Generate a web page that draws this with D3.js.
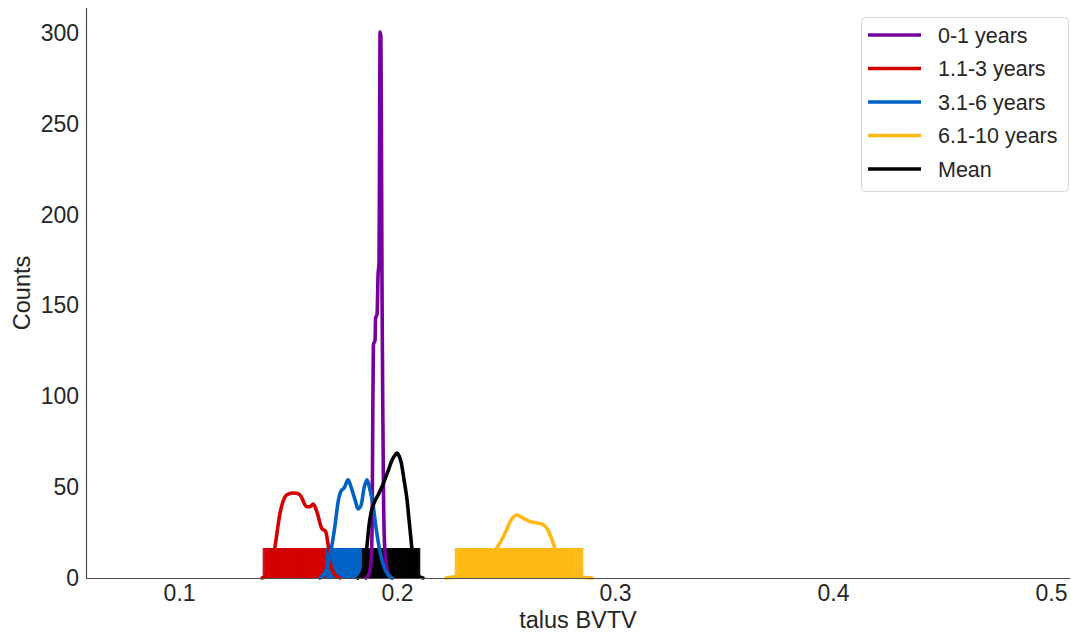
<!DOCTYPE html>
<html>
<head>
<meta charset="utf-8">
<script src="https://cdn.jsdelivr.net/npm/d3@7"></script>
<style>
  html, body { margin: 0; padding: 0; background: #fff; }
  svg { display: block; font-family: "Liberation Sans", Arial, sans-serif; }
</style>
</head>
<body>
<svg id="chart" width="1071" height="635"></svg>
<script>
// Age groups, in drawing order
const groups = ["0-1 years", "1.1-3 years", "3.1-6 years", "6.1-10 years", "Mean"];
const groupColors = ["#77009c", "#d40000", "#0062c4", "#ffb914", "#000000"];

// Axis ticks
const xTicks = [0.1, 0.2, 0.3, 0.4, 0.5];
const yTicks = [0, 50, 100, 150, 200, 250, 300];

// Density curves: [talus BVTV, counts]
const kde0to1 = [
  [0.18578, 0], [0.18716, 2.2], [0.18807, 8.8], [0.18853, 26.4], [0.18880, 76],
  [0.18913, 128.3], [0.18991, 131], [0.19014, 143.1], [0.19083, 145.3], [0.19128, 166.8],
  [0.19174, 173.9], [0.19201, 252.1], [0.19220, 300.5], [0.19257, 298.3], [0.19285, 235.6],
  [0.19312, 153.6], [0.19349, 87.6], [0.19381, 43.5], [0.19427, 18.2], [0.19518, 6.6],
  [0.19633, 1.7], [0.19770, 0]
];
const kde1to3 = [
  [0.13810, 0], [0.14034, 1.7], [0.14268, 8.0], [0.14400, 17.2], [0.14633, 35.8],
  [0.14867, 44.8], [0.15009, 46.2], [0.15233, 46.8], [0.15395, 46.6], [0.15548, 45.7],
  [0.15863, 39.2], [0.16005, 39.2], [0.16157, 40.7], [0.16320, 36.5], [0.16543, 27.4],
  [0.16726, 25.5], [0.16848, 17.2], [0.16970, 6.2], [0.17153, 1.7], [0.17387, 0]
];
const kde3to6 = [
  [0.16468, 0], [0.16744, 4.4], [0.16972, 15.4], [0.17156, 29.2], [0.17293, 41.8],
  [0.17432, 47.9], [0.17569, 49.5], [0.17753, 54], [0.17890, 50], [0.18074, 43],
  [0.18211, 38], [0.18349, 40], [0.18486, 49.5], [0.18624, 54], [0.18762, 48.4],
  [0.18899, 40.2], [0.19037, 27.5], [0.19220, 14.3], [0.19404, 6], [0.19588, 1.7],
  [0.19770, 0]
];
const kde6to10 = [
  [0.22248, 0], [0.22798, 1.1], [0.23349, 3.9], [0.23899, 8.3], [0.24358, 13.2],
  [0.24725, 19.3], [0.25000, 25.9], [0.25230, 31.9], [0.25505, 34.7], [0.25779, 33],
  [0.26102, 31.1], [0.26423, 30.3], [0.26697, 29.4], [0.26927, 26.4], [0.27156, 19.3],
  [0.27386, 10.5], [0.27614, 5], [0.27890, 1.7], [0.28395, 0.6], [0.28946, 0]
];
const kdeMean = [
  [0.18211, 0], [0.18395, 2.8], [0.18532, 8.8], [0.18624, 18.2], [0.18716, 29.2],
  [0.18807, 35.8], [0.18945, 41.3], [0.19128, 45.7], [0.19358, 51.7], [0.19588, 58.9],
  [0.19770, 65], [0.19909, 67.7], [0.20000, 68.8], [0.20092, 67.2], [0.20184, 63.9],
  [0.20321, 53.9], [0.20458, 42.9], [0.20551, 31.9], [0.20642, 20.9], [0.20734, 9.9],
  [0.20872, 3.3], [0.21055, 0.6], [0.21193, 0]
];

// Individual observations shown as a rug along the x axis
const rug0to1 = [0.1884, 0.1894, 0.1904, 0.1914, 0.1924, 0.1934, 0.1944];
const rug1to3 = [
  0.1394, 0.1404, 0.1414, 0.1424, 0.1434, 0.1444, 0.1454, 0.1464, 0.1474, 0.1484,
  0.1494, 0.1504, 0.1514, 0.1524, 0.1534, 0.1544, 0.1554, 0.1564, 0.1574, 0.1584,
  0.1594, 0.1604, 0.1614, 0.1624, 0.1634, 0.1644, 0.1654, 0.1664, 0.1674
];
const rug3to6 = [
  0.1683, 0.1693, 0.1703, 0.1713, 0.1723, 0.1733, 0.1743, 0.1753, 0.1763, 0.1773,
  0.1783, 0.1793, 0.1803, 0.1813, 0.1823, 0.1833, 0.1843, 0.1853, 0.1863, 0.1873
];
const rug6to10 = [
  0.2275, 0.2289, 0.2297, 0.2307, 0.2317, 0.2327, 0.2337, 0.2347, 0.2357, 0.2367,
  0.2377, 0.2387, 0.2397, 0.2407, 0.2417, 0.2427, 0.2437, 0.2447, 0.2457, 0.2467,
  0.2477, 0.2487, 0.2497, 0.2507, 0.2517, 0.2527, 0.2537, 0.2547, 0.2557, 0.2567,
  0.2577, 0.2587, 0.2597, 0.2607, 0.2617, 0.2627, 0.2637, 0.2647, 0.2657, 0.2667,
  0.2677, 0.2687, 0.2697, 0.2707, 0.2717, 0.2727, 0.2737, 0.2747, 0.2757, 0.2767,
  0.2777, 0.2787, 0.2797, 0.2805, 0.2819, 0.2832, 0.2844
];
const rugMean = [
  0.1849, 0.1859, 0.1869, 0.1879, 0.1889, 0.1899, 0.1909, 0.1919, 0.1929, 0.1939,
  0.1949, 0.1959, 0.1969, 0.1979, 0.1989, 0.1999, 0.2009, 0.2019, 0.2029, 0.2039,
  0.2049, 0.2059, 0.2069, 0.2079, 0.2089, 0.2096
];

const curves = [kde0to1, kde1to3, kde3to6, kde6to10, kdeMean];
const rugs = [rug0to1, rug1to3, rug3to6, rug6to10, rugMean];

// Layout
const svg = d3.select("#chart");
const plot = { left: 86, right: 1070, top: 8, bottom: 578 };
const rugHeight = 30;

const x = d3.scaleLinear().domain([0.0573, 0.5087]).range([plot.left, plot.right]);
const y = d3.scaleLinear().domain([0, 313.8]).range([plot.bottom, plot.top]);

// Rugs first so every density line sits on top of them
const rugLayer = svg.append("g");
rugs.forEach((vals, i) => {
  rugLayer.append("g")
    .selectAll("line")
    .data(vals)
    .join("line")
    .attr("x1", d => x(d)).attr("x2", d => x(d))
    .attr("y1", y(0)).attr("y2", y(0) - rugHeight)
    .attr("stroke", groupColors[i])
    .attr("stroke-width", 4.6)
    .attr("stroke-opacity", 0.92);
});

// Density lines
const line = d3.line()
  .x(d => x(d[0]))
  .y(d => y(d[1]))
  .curve(d3.curveMonotoneX);

svg.append("g")
  .selectAll("path")
  .data(curves)
  .join("path")
  .attr("d", d => line(d))
  .attr("fill", "none")
  .attr("stroke", (d, i) => groupColors[i])
  .attr("stroke-width", 3.6)
  .attr("stroke-linejoin", "round")
  .attr("stroke-linecap", "round");

// Axes (left and bottom spines only)
const textColor = "#262626";
const xAxis = svg.append("g")
  .attr("transform", `translate(0,${plot.bottom})`)
  .call(d3.axisBottom(x).tickValues(xTicks).tickSize(0).tickPadding(7)
    .tickFormat(d3.format(".1f")));
const yAxis = svg.append("g")
  .attr("transform", `translate(${plot.left},0)`)
  .call(d3.axisLeft(y).tickValues(yTicks).tickSize(0).tickPadding(7)
    .tickFormat(d3.format("d")));

[xAxis, yAxis].forEach(g => {
  g.select(".domain").attr("stroke", "#4d4d4d").attr("stroke-width", 1.2);
  g.selectAll(".tick text")
    .attr("fill", textColor)
    .style("font-size", "23px")
    .style("font-family", "'Liberation Sans', Arial, sans-serif");
});
// bottom spine spans the full plot width
xAxis.select(".domain").attr("d", `M${plot.left},0.5H${plot.right}`);
yAxis.select(".domain").attr("d", `M0.5,${plot.top}V${plot.bottom}`);

svg.append("text")
  .attr("x", (plot.left + plot.right) / 2)
  .attr("y", 628)
  .attr("text-anchor", "middle")
  .attr("fill", textColor)
  .style("font-size", "23.5px")
  .text("talus BVTV");

svg.append("text")
  .attr("transform", `translate(30,${(plot.top + plot.bottom) / 2}) rotate(-90)`)
  .attr("text-anchor", "middle")
  .attr("fill", textColor)
  .style("font-size", "23.5px")
  .text("Counts");

// Legend
const legend = svg.append("g");
legend.append("rect")
  .attr("x", 861.5).attr("y", 17.5)
  .attr("width", 207).attr("height", 174)
  .attr("rx", 4).attr("ry", 4)
  .attr("fill", "#fff").attr("fill-opacity", 0.85)
  .attr("stroke", "#d6d6d6").attr("stroke-width", 1);

const rowY = d3.scaleLinear().domain([0, groups.length - 1]).range([35, 169]);
const rows = legend.selectAll("g.row")
  .data(groups)
  .join("g")
  .attr("class", "row")
  .attr("transform", (d, i) => `translate(0,${rowY(i)})`);
rows.append("line")
  .attr("x1", 868).attr("x2", 921)
  .attr("stroke", (d, i) => groupColors[i])
  .attr("stroke-width", 3.6);
rows.append("text")
  .attr("x", 938)
  .attr("dy", "0.35em")
  .attr("fill", textColor)
  .style("font-size", "21.5px")
  .text(d => d);
</script>
</body>
</html>
